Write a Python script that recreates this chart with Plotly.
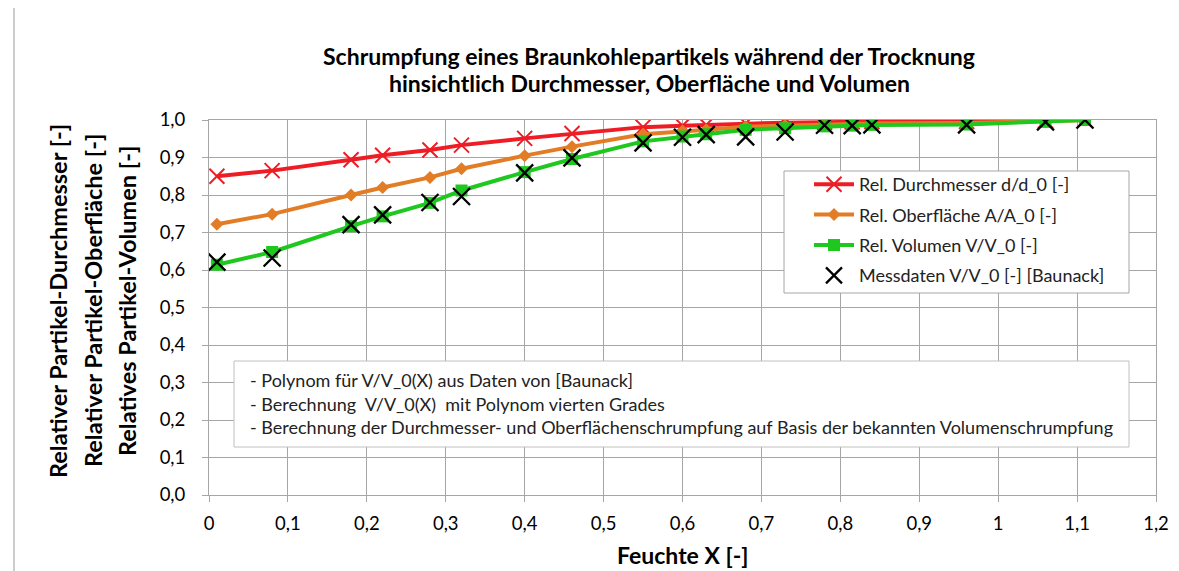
import plotly.graph_objects as go

# ---------------- data ----------------
feuchte = [0.01, 0.08, 0.18, 0.22, 0.28, 0.32, 0.40, 0.46, 0.55, 0.60,
           0.63, 0.68, 0.73, 0.78, 0.815, 0.84, 0.96, 1.06, 1.11]
durchmesser = [0.850, 0.865, 0.894, 0.906, 0.920, 0.933, 0.951, 0.964, 0.981, 0.985,
               0.987, 0.991, 0.993, 0.994, 0.995, 0.996, 0.996, 0.998, 1.000]
oberflaeche = [0.722, 0.749, 0.800, 0.820, 0.847, 0.870, 0.905, 0.929, 0.962, 0.971,
               0.974, 0.982, 0.985, 0.989, 0.990, 0.991, 0.992, 0.997, 1.000]
volumen = [0.614, 0.648, 0.717, 0.743, 0.779, 0.812, 0.861, 0.896, 0.943, 0.956,
           0.962, 0.974, 0.978, 0.983, 0.985, 0.987, 0.988, 0.995, 1.000]
messdaten = [0.621, 0.632, 0.721, 0.747, 0.780, 0.796, 0.859, 0.899, 0.939, 0.954,
             0.961, 0.955, 0.968, 0.986, 0.985, 0.987, 0.987, 0.995, 1.000]

x_tickvals = [0, 0.1, 0.2, 0.3, 0.4, 0.5, 0.6, 0.7, 0.8, 0.9, 1.0, 1.1, 1.2]
x_ticktext = ["0", "0,1", "0,2", "0,3", "0,4", "0,5", "0,6", "0,7", "0,8", "0,9", "1", "1,1", "1,2"]
y_tickvals = [0, 0.1, 0.2, 0.3, 0.4, 0.5, 0.6, 0.7, 0.8, 0.9, 1.0]
y_ticktext = ["0,0", "0,1", "0,2", "0,3", "0,4", "0,5", "0,6", "0,7", "0,8", "0,9", "1,0"]

series_names = ["Rel. Durchmesser d/d_0 [-]", "Rel. Oberfläche A/A_0 [-]",
                "Rel. Volumen V/V_0 [-]", "Messdaten V/V_0 [-] [Baunack]"]
title_lines = ["Schrumpfung eines Braunkohlepartikels während der Trocknung",
               "hinsichtlich Durchmesser, Oberfläche und Volumen"]
y_title_lines = ["Relativer Partikel-Durchmesser [-]",
                 "Relativer Partikel-Oberfläche [-]",
                 "Relatives Partikel-Volumen [-]"]
x_title = "Feuchte X [-]"
note_lines = ["- Polynom für V/V_0(X) aus Daten von [Baunack]",
              "- Berechnung  V/V_0(X)  mit Polynom vierten Grades",
              "- Berechnung der Durchmesser- und Oberflächenschrumpfung auf Basis der bekannten Volumenschrumpfung"]

# ---------------- layout geometry ----------------
W, H = 1179, 571
L, R, T, B = 201, 1148, 112, 487
FONT = "Lato"
GRID = "#a6a6a6"

def px(xp):
    return (xp - L) / (R - L)

def py(yp):
    return (B - yp) / (B - T)

RED = "#ee1c24"
ORANGE = "#e27d26"
GREEN = "#1ec81e"

fig = go.Figure()
fig.add_trace(go.Scatter(x=feuchte, y=durchmesser, name=series_names[0], mode="lines+markers",
                         line=dict(color=RED, width=4),
                         marker=dict(symbol="x-thin-open", size=15, color=RED, line=dict(color=RED, width=2)),
                         legendgroup="a"))
fig.add_trace(go.Scatter(x=feuchte, y=oberflaeche, name=series_names[1], mode="lines+markers",
                         line=dict(color=ORANGE, width=4),
                         marker=dict(symbol="diamond", size=10, color=ORANGE),
                         legendgroup="b"))
fig.add_trace(go.Scatter(x=feuchte, y=volumen, name=series_names[2], mode="lines+markers",
                         line=dict(color=GREEN, width=4),
                         marker=dict(symbol="square", size=12, color=GREEN),
                         legendgroup="c"))
fig.add_trace(go.Scatter(x=feuchte, y=messdaten, name=series_names[3], mode="markers",
                         marker=dict(symbol="x-thin-open", size=17, color="black",
                                     line=dict(color="black", width=2.3)),
                         legendgroup="d"))

shapes = [
    # legend frame
    dict(type="rect", xref="paper", yref="paper", x0=px(776), x1=px(1121), y0=py(285), y1=py(163),
         line=dict(color="#a6a6a6", width=1), fillcolor="white", layer="above"),
    # note frame
    dict(type="rect", xref="paper", yref="paper", x0=px(226), x1=px(1121), y0=py(439), y1=py(353),
         line=dict(color="#c0c0c0", width=1), fillcolor="white", layer="above"),
    # outer chart border (left)
    dict(type="line", xref="paper", yref="paper", x0=px(6), x1=px(6), y0=py(575), y1=py(-5),
         line=dict(color="#9a9a9a", width=1)),
]

annotations = []
for i, line in enumerate(title_lines):
    annotations.append(dict(text="<b>%s</b>" % line, xref="paper", yref="paper",
                            x=px(641), y=py([48, 75][i]), xanchor="center", yanchor="middle",
                            showarrow=False, font=dict(family=FONT, size=23, color="black")))
for i, line in enumerate(y_title_lines):
    annotations.append(dict(text="<b>%s</b>" % line, xref="paper", yref="paper",
                            x=px([50, 85, 119][i]), y=py(293), xanchor="center", yanchor="middle",
                            textangle=-90, showarrow=False,
                            font=dict(family=FONT, size=23.5, color="black")))
annotations.append(dict(text="<b>%s</b>" % x_title, xref="paper", yref="paper",
                        x=px(674), y=py(547), xanchor="center", yanchor="middle",
                        showarrow=False, font=dict(family=FONT, size=23, color="black")))
for i, line in enumerate(note_lines):
    annotations.append(dict(text=line, xref="paper", yref="paper",
                            x=px(240), y=py([372, 396, 419][i]), xanchor="left", yanchor="middle",
                            showarrow=False, font=dict(family=FONT, size=18, color="#222222")))

fig.update_layout(
    width=W, height=H,
    margin=dict(l=L, r=W - R, t=T, b=H - B, pad=0),
    paper_bgcolor="white", plot_bgcolor="white",
    font=dict(family=FONT, size=18, color="black"),
    showlegend=True,
    legend=dict(x=px(801), y=py(158), xanchor="left", yanchor="top",
                bgcolor="rgba(0,0,0,0)", borderwidth=0,
                font=dict(family=FONT, size=18, color="#222222"),
                traceorder="grouped", tracegroupgap=4, itemwidth=40),
    shapes=shapes,
    annotations=annotations,
)
fig.update_xaxes(range=[0, 1.2], tickvals=x_tickvals, ticktext=x_ticktext,
                 showgrid=True, gridcolor=GRID, gridwidth=1,
                 showline=True, linecolor=GRID, linewidth=1, mirror=True,
                 ticks="outside", ticklen=6, tickcolor=GRID, zeroline=False,
                 ticklabelstandoff=6,
                 tickfont=dict(family=FONT, size=18.5, color="black"))
fig.update_yaxes(range=[0, 1.0], tickvals=y_tickvals, ticktext=y_ticktext,
                 showgrid=True, gridcolor=GRID, gridwidth=1,
                 showline=True, linecolor=GRID, linewidth=1, mirror=True,
                 ticks="outside", ticklen=6, tickcolor=GRID, zeroline=False,
                 ticklabelstandoff=13,
                 tickfont=dict(family=FONT, size=18.5, color="black"))

fig.write_html("out.html")
